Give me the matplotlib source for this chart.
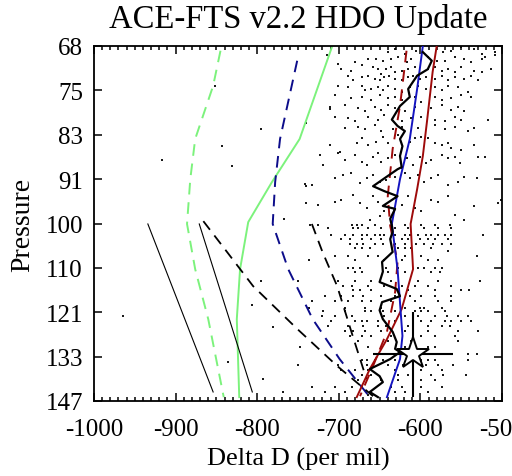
import matplotlib
matplotlib.use("Agg")
import matplotlib.pyplot as plt
from matplotlib.ticker import FixedLocator, NullLocator, MultipleLocator

plt.rcParams['font.family'] = ['Liberation Serif', 'DejaVu Serif']

# ---------------- data ----------------
x_ticks = [-1000, -900, -800, -700, -600, -500]
x_ticklabels = ['-1000', '-900', '-800', '-700', '-600', '-500']
p_ticklabels = ['68', '75', '83', '91', '100', '110', '121', '133', '147']

# scattered individual profiles (delta D, pressure)
dots_upper = [
    (-715,69.7),(-640,69.2),(-631,68.7),(-619,69.5),(-605,69.0),(-572,69.2),(-562,69.0),(-550,68.5),(-534,68.7),(-525,69.5),(-509,69.2),(-509,69.7),
    (-701,71.0),(-680,70.7),(-664,70.2),(-654,70.2),(-646,70.5),(-636,70.2),(-627,70.0),(-617,70.7),(-611,70.2),(-591,70.0),(-580,70.5),(-570,70.5),(-558,70.0),(-546,70.2),(-538,70.7),(-525,70.2),(-521,70.0),
    (-697,71.7),(-685,72.0),(-672,71.2),(-658,71.5),(-652,71.7),(-648,72.5),(-642,71.7),(-636,71.5),(-631,72.3),(-623,72.0),(-615,71.7),(-607,71.5),(-591,71.7),(-582,71.5),(-574,72.0),(-566,71.7),(-558,72.3),(-550,71.5),(-534,72.0),(-525,72.3),(-513,71.7),
    (-689,72.8),(-682,73.5),(-672,73.0),(-664,72.8),(-656,73.3),(-650,73.5),(-644,73.0),(-638,72.8),(-631,73.3),(-623,73.5),(-615,73.0),(-609,72.8),(-601,73.3),(-593,73.0),(-582,73.3),(-574,72.8),(-566,73.5),(-558,73.0),(-546,73.3),(-538,72.8),(-529,73.5),
    (-701,74.4),(-689,74.6),(-672,74.4),(-668,75.1),(-660,74.9),(-652,74.6),(-646,75.1),(-640,74.4),(-631,74.9),(-623,75.4),(-613,74.6),(-603,74.4),(-593,74.9),(-582,74.6),(-574,75.1),(-566,74.4),(-554,74.6),(-542,75.4),
    (-705,75.9),(-685,76.4),(-672,76.2),(-660,76.7),(-650,75.9),(-640,76.4),(-631,76.2),(-623,76.7),(-607,76.2),(-599,77.0),(-582,76.2),(-574,76.7),(-562,76.4),(-550,75.9),(-538,76.2),
    (-711,77.8),(-693,77.5),(-676,78.1),(-668,78.6),(-656,77.8),(-648,78.4),(-640,77.5),(-631,78.1),(-619,78.6),(-607,77.8),(-587,78.1),(-574,77.5),(-562,78.4),(-554,77.8),(-546,78.6),
    (-705,79.5),(-689,79.8),(-680,80.3),(-664,79.5),(-652,80.0),(-644,79.2),(-623,80.3),(-611,79.8),(-599,79.5),(-582,80.0),(-570,80.3),(-558,79.5),(-550,80.0),(-517,80.0),
    (-740,80.6),(-693,81.5),(-676,81.2),(-668,81.7),(-656,80.9),(-648,82.0),(-634,81.7),(-623,81.2),(-603,81.5),(-582,80.9),(-570,81.7),(-558,81.2),(-542,82.0),(-534,81.5),
]
dots_middle = [
    (-711,84.5),(-699,85.7),(-678,84.2),(-672,83.3),(-664,84.5),(-654,84.0),(-646,83.0),(-640,84.2),(-627,82.7),(-613,84.0),(-607,83.3),(-599,83.0),(-591,83.3),(-582,84.2),(-574,84.5),(-566,84.2),(-562,85.1),(-550,85.4),(-534,84.5),
    (-719,88.2),(-701,86.0),(-693,87.2),(-680,86.3),(-672,87.6),(-666,88.2),(-658,86.6),(-652,86.0),(-648,87.6),(-640,86.9),(-631,86.3),(-623,88.8),(-617,86.9),(-609,88.2),(-601,86.6),(-593,87.9),(-587,87.2),(-574,86.3),(-566,86.9),(-558,86.6),(-552,87.9),(-529,86.6),(-521,86.6),
    (-742,91.9),(-733,92.0),(-705,90.7),(-695,90.1),(-685,89.8),(-674,91.7),(-666,90.7),(-658,90.1),(-650,91.4),(-642,91.0),(-631,90.4),(-619,89.8),(-613,90.7),(-603,90.1),(-595,91.4),(-587,90.7),(-578,90.1),(-566,92.0),(-554,91.4),(-546,90.4),(-531,90.7),
    (-740,95.7),(-725,96.1),(-705,95.4),(-697,95.0),(-682,94.0),(-674,95.7),(-666,96.8),(-658,94.3),(-652,95.4),(-644,97.4),(-631,94.7),(-623,96.1),(-615,94.3),(-607,96.8),(-599,97.4),(-587,95.0),(-578,95.4),(-566,94.3),(-558,98.1),(-546,99.2),(-534,96.4),(-505,95.7),(-501,95.0),(-662,99.2),(-650,98.5),
]
dots_outliers = [
    (-917,87.2),(-831,88.3),(-843,84.6),(-795,81.6),(-852,74.4),(-740,92.2),(-723,86.4),(-711,78.2),(-726,96.2),(-767,99.0),
    (-964,122.1),(-795,113.1),(-806,119.1),(-781,124.9),(-836,134.7),(-793,139.7),(-768,143.6),
]
# lower retrieval levels: pressure, delta D values
dot_rows = [
    (100.3, [-735,-725,-684,-678,-672,-656,-635,-619,-599,-582,-564]),
    (101.0, [-713,-682,-676,-664,-648,-631,-615,-595,-578,-562]),
    (102.5, [-709,-693,-682,-672,-666,-656,-650,-644,-631,-619,-613,-603,-593,-587,-578,-570,-562,-523]),
    (103.4, [-697,-686,-672,-660,-648,-623,-615,-601,-591,-582,-566]),
    (104.4, [-686,-678,-670,-656,-646,-631,-619,-605,-595,-584,-574,-562]),
    (105.4, [-680,-672,-662,-627,-619,-611,-587]),
    (106.1, [-566]),
    (107.2, [-705,-689,-664,-652,-619,-599,-531]),
    (108.2, [-737,-680,-644,-623,-591,-578]),
    (110.0, [-689,-682,-674,-642,-627,-603,-595,-582,-574]),
    (111.0, [-680,-672,-640,-619,-587,-576]),
    (113.2, [-750,-701,-680,-660,-636,-603,-578,-527]),
    (114.3, [-695,-684,-664,-644,-623,-607,-591,-562]),
    (115.3, [-682,-674,-660,-615,-582,-550,-540]),
    (116.9, [-717,-697,-682,-670,-648,-631,-613,-599,-582,-562]),
    (118.2, [-733,-705,-689,-672,-660,-636,-607,-578,-562]),
    (119.9, [-737,-693,-668,-648,-619,-601,-595,-574]),
    (120.8, [-719,-693,-668,-660,-646,-631,-607,-599,-591,-570]),
    (122.1, [-721,-705,-684,-644,-619,-603,-582,-568,-554,-542]),
    (123.4, [-709,-680,-672,-666,-652,-631,-599,-587,-570,-562,-550,-538]),
    (124.7, [-713,-689,-670,-652,-642,-615,-591,-574,-564]),
    (126.0, [-693,-682,-668,-648,-619,-591,-554,-529]),
    (127.4, [-686,-672,-660,-636,-599,-582,-558]),
    (128.7, [-676,-640,-611,-554]),
    (130.5, [-748,-664,-619,-591,-582]),
    (132.3, [-578,-566,-542,-531]),
    (134.2, [-672,-666,-656,-646,-631,-599,-591,-582,-542]),
    (135.6, [-750,-701,-666,-640,-621,-593,-578,-560]),
    (137.1, [-697,-680,-664,-631,-599,-574]),
    (138.5, [-672,-660,-627,-615,-587,-572,-544]),
    (140.0, [-676,-648,-627,-599,-582]),
    (142.0, [-733,-705,-684,-672,-636,-623,-599,-574]),
    (143.5, [-717,-693,-660,-631,-619,-591]),
    (144.5, [-664]),
]

# profiles (delta D, pressure)
green_dash_d = [-845, -854, -876, -882, -886, -876, -860, -841]
green_dash_p = [69.0, 74.4, 83.4, 90.9, 100.1, 110.3, 122.8, 145.2]
green_solid_d = [-708, -748, -782, -811, -821, -825, -822]
green_solid_p = [68.3, 83.4, 91.5, 99.7, 110.3, 122.8, 145.2]
navy_dash_d = [-751, -772, -778, -781, -762, -732, -699, -662]
navy_dash_p = [70.5, 83.4, 91.5, 100.1, 110.3, 122.8, 133.8, 145.2]
black_dash1_d = [-866, -837, -805, -751, -702, -658]
black_dash1_p = [99.5, 106.3, 114.4, 125.4, 135.8, 144.9]
black_dash2_d = [-733, -720, -702, -683, -666]
black_dash2_p = [100.1, 106.3, 114.4, 127.3, 139.7]
thin_a_d = [-934, -854]
thin_a_p = [100.1, 143.6]
thin_b_d = [-871, -806]
thin_b_p = [100.1, 143.6]
red_solid_d = [-580, -585, -592, -597, -604, -612, -609, -623, -641, -662, -678]
red_solid_p = [68.3, 72.2, 80.4, 86.5, 92.9, 100.1, 110.3, 120.2, 128.2, 136.7, 145.2]
red_dash_d = [-617, -625, -634, -640, -637, -628, -631, -641, -658, -674]
red_dash_p = [69.0, 77.7, 85.2, 94.3, 100.5, 108.6, 115.9, 126.2, 135.8, 144.9]
blue_d = [-597, -604, -613, -625, -635, -628, -622, -625, -641]
blue_p = [68.3, 74.9, 83.4, 90.9, 100.1, 110.3, 127.3, 133.8, 145.2]
mean_d = [-597, -586, -591, -604, -615, -613, -625, -635, -628, -619, -625, -622, -625, -623,
          -628, -640, -658, -644, -628, -646, -631, -637, -635, -634, -637, -634, -647, -646,
          -650, -629, -625, -647, -650, -646, -634, -629, -631, -625, -637, -662, -650, -646,
          -662, -652]
mean_p = [69.2, 70.5, 71.8, 72.8, 74.9, 76.2, 77.7, 80.0, 81.1, 82.0, 83.4, 84.7, 86.5, 88.6,
          89.0, 90.3, 92.3, 93.3, 94.3, 96.3, 96.9, 99.0, 100.5, 101.8, 103.4, 106.3, 108.6, 110.9,
          113.4, 115.1, 116.9, 118.4, 120.5, 122.8, 126.2, 129.0, 130.9, 131.8, 133.8, 136.7, 138.8, 140.6,
          143.6, 145.2]
star_d = -609
star_p = 132.4
star_xerr = 49
star_perr = [[11.5], [12.8]]

# ---------------- plot ----------------
fig = plt.figure(figsize=(5.12, 4.77), dpi=100)
ax = fig.add_axes([94/512, 1 - 402/477, 408/512, 355/477])

ax.set_yscale('log')
ax.set_xlim(-1000, -500)
ax.set_ylim(100 * 1.1**4, 100 * 1.1**-4)

# dots
dx = [d for d, p in dots_upper + dots_middle + dots_outliers]
dp = [p for d, p in dots_upper + dots_middle + dots_outliers]
for p, ds in dot_rows:
    dx += ds
    dp += [p] * len(ds)
ax.plot(dx, dp, 's', color='#1a1a1a', ms=1.5, mew=0, zorder=1)

lg = '#7CF27C'
ax.plot(green_dash_d, green_dash_p, color=lg, lw=1.4, ls=(0, (6, 4)), zorder=2)
ax.plot(green_solid_d, green_solid_p, color=lg, lw=1.4, zorder=2)
ax.plot(navy_dash_d, navy_dash_p, color='#0C0C8A', lw=1.4, ls=(0, (6, 4)), zorder=2)
ax.plot(black_dash1_d, black_dash1_p, color='black', lw=1.3, ls=(0, (6, 4)), zorder=2)
ax.plot(black_dash2_d, black_dash2_p, color='black', lw=1.3, ls=(0, (6, 4)), zorder=2)
ax.plot(thin_a_d, thin_a_p, color='black', lw=0.8, zorder=2)
ax.plot(thin_b_d, thin_b_p, color='black', lw=0.8, zorder=2)
ax.plot(red_dash_d, red_dash_p, color='#9E0A0A', lw=1.4, ls=(0, (6, 4)), zorder=3)
ax.plot(red_solid_d, red_solid_p, color='#9E0A0A', lw=1.4, zorder=3)
ax.plot(blue_d, blue_p, color='#1414C0', lw=1.4, zorder=3)
ax.plot(mean_d, mean_p, color='black', lw=1.6, zorder=4)

ax.errorbar([star_d], [star_p], xerr=star_xerr, yerr=star_perr, fmt='none',
            ecolor='black', elinewidth=1.5, capsize=0, zorder=5)
ax.plot([star_d], [star_p], marker='*', ms=24, mfc='white', mec='black', mew=1.4,
        ls='none', zorder=6)

# axes styling
ax.set_xticks(x_ticks)
ax.set_xticklabels(x_ticklabels)
ax.xaxis.set_minor_locator(MultipleLocator(10))
p_ticks = [100 * 1.1**k for k in range(-4, 5)]
ax.yaxis.set_major_locator(FixedLocator(p_ticks))
ax.yaxis.set_minor_locator(NullLocator())
ax.set_yticklabels(p_ticklabels)

ax.tick_params(which='both', direction='in', top=True, right=True, width=1.1, color='black')
ax.tick_params(which='major', length=5.5)
ax.tick_params(which='minor', length=2.6)
ax.tick_params(axis='x', which='major', labelsize=18, pad=12)
ax.tick_params(axis='y', which='major', labelsize=18, pad=8)
for s in ax.spines.values():
    s.set_linewidth(1.3)

ax.set_xlabel('Delta D (per mil)', fontsize=19, labelpad=5)
ax.set_ylabel('Pressure', fontsize=20, labelpad=7)
ax.set_title('ACE-FTS v2.2 HDO Update', fontsize=23.5, pad=14)

fig.savefig('out.png', dpi=100)
